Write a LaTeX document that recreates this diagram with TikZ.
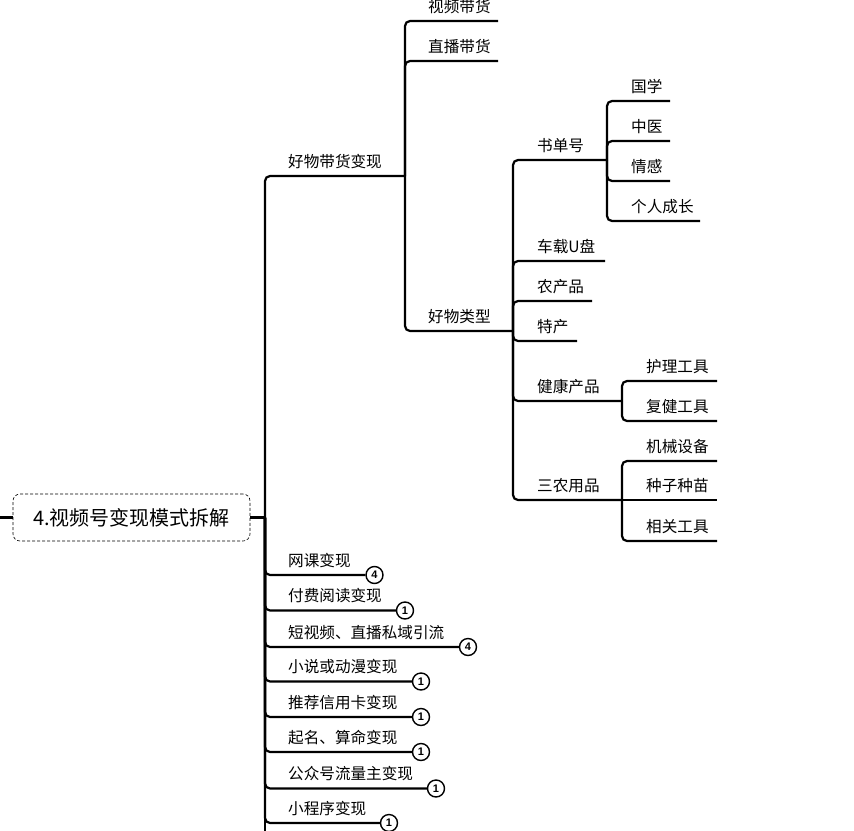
\documentclass[tikz,border=0pt]{standalone}
\usepackage{fontspec}
\setmainfont{Noto Sans CJK SC}
\newfontfamily\numfont{Liberation Sans}
\begin{document}
\begin{tikzpicture}[x=1pt,y=-1pt,
  conn/.style={line width=2.2pt, rounded corners=5pt},
  lbl/.style={anchor=base west, inner sep=0pt, font=\fontsize{15.6}{16}\selectfont},
  num/.style={circle, draw, line width=1.4pt, minimum size=17pt, inner sep=0pt, fill=white, font=\numfont\bfseries\fontsize{11}{11}\selectfont},
  rootbox/.style={draw, densely dashed, line width=0.6pt, rounded corners=7pt, minimum width=237pt, minimum height=47pt, inner sep=0pt, font=\fontsize{20}{22}\selectfont}
]
\useasboundingbox (0,0) rectangle (854,830);
\clip (0,0) rectangle (854,830);

% root
\node[rootbox] (root) at (131.5,517.5) {4.视频号变现模式拆解};
\coordinate (in) at (0,517.5);
\coordinate (j0) at (265,517.5);
\coordinate (tail) at (265,845);
\draw[conn] (in) -- (root.west);
\draw[conn] (root.east) -- (j0);
\draw[conn] (j0) -- (tail);

% branch: 好物带货变现
\node[lbl] (b1) at (288,167) {好物带货变现};
\coordinate (j1) at (405,176);
\draw[conn] (j0) |- (j1);

\node[lbl] (c1) at (428,12) {视频带货};
\coordinate (c1e) at (498,21);
\draw[conn] (j1) |- (c1e);
\node[lbl] (c2) at (428,52) {直播带货};
\coordinate (c2e) at (498,61);
\draw[conn] (j1) |- (c2e);
\node[lbl] (c3) at (428,322) {好物类型};
\coordinate (j2) at (513,331);
\draw[conn] (j1) |- (j2);

% 好物类型 children
\node[lbl] (d1) at (537,151) {书单号};
\coordinate (j3) at (607,160);
\draw[conn] (j2) |- (j3);
\node[lbl] (d2) at (537,252) {车载U盘};
\coordinate (d2e) at (605,261);
\draw[conn] (j2) |- (d2e);
\node[lbl] (d3) at (537,292) {农产品};
\coordinate (d3e) at (592,301);
\draw[conn] (j2) |- (d3e);
\node[lbl] (d4) at (537,332) {特产};
\coordinate (d4e) at (577,341);
\draw[conn] (j2) |- (d4e);
\node[lbl] (d5) at (537,392) {健康产品};
\coordinate (j4) at (622,401);
\draw[conn] (j2) |- (j4);
\node[lbl] (d6) at (537,491) {三农用品};
\coordinate (j5) at (622,500);
\draw[conn] (j2) |- (j5);

% 书单号 children
\node[lbl] (e1) at (631,92) {国学};
\coordinate (e1e) at (670,101);
\draw[conn] (j3) |- (e1e);
\node[lbl] (e2) at (631,132) {中医};
\coordinate (e2e) at (670,141);
\draw[conn] (j3) |- (e2e);
\node[lbl] (e3) at (631,172) {情感};
\coordinate (e3e) at (670,181);
\draw[conn] (j3) |- (e3e);
\node[lbl] (e4) at (631,212) {个人成长};
\coordinate (e4e) at (700,221);
\draw[conn] (j3) |- (e4e);

% 健康产品 children
\node[lbl] (f1) at (646,372) {护理工具};
\coordinate (f1e) at (717,381);
\draw[conn] (j4) |- (f1e);
\node[lbl] (f2) at (646,412) {复健工具};
\coordinate (f2e) at (717,421);
\draw[conn] (j4) |- (f2e);

% 三农用品 children
\node[lbl] (g1) at (646,452) {机械设备};
\coordinate (g1e) at (717,461);
\draw[conn] (j5) |- (g1e);
\node[lbl] (g2) at (646,491) {种子种苗};
\coordinate (g2e) at (717,500);
\draw[conn] (j5) -- (g2e);
\node[lbl] (g3) at (646,532) {相关工具};
\coordinate (g3e) at (717,541);
\draw[conn] (j5) |- (g3e);

% lower branches with counters
\node[lbl] (h1) at (288,566) {网课变现};
\node[num] (n1) at (374.5,575) {4};
\draw[conn] (j0) |- (n1.west);
\node[lbl] (h2) at (288,601.5) {付费阅读变现};
\node[num] (n2) at (405,610.5) {1};
\draw[conn] (j0) |- (n2.west);
\node[lbl] (h3) at (288,638) {短视频、直播私域引流};
\node[num] (n3) at (468,647) {4};
\draw[conn] (j0) |- (n3.west);
\node[lbl] (h4) at (288,672.5) {小说或动漫变现};
\node[num] (n4) at (421,681.5) {1};
\draw[conn] (j0) |- (n4.west);
\node[lbl] (h5) at (288,708) {推荐信用卡变现};
\node[num] (n5) at (421,717) {1};
\draw[conn] (j0) |- (n5.west);
\node[lbl] (h6) at (288,743) {起名、算命变现};
\node[num] (n6) at (421,752) {1};
\draw[conn] (j0) |- (n6.west);
\node[lbl] (h7) at (288,779.5) {公众号流量主变现};
\node[num] (n7) at (436,788.5) {1};
\draw[conn] (j0) |- (n7.west);
\node[lbl] (h8) at (288,814) {小程序变现};
\node[num] (n8) at (389,823) {1};
\draw[conn] (j0) |- (n8.west);
\end{tikzpicture}
\end{document}
